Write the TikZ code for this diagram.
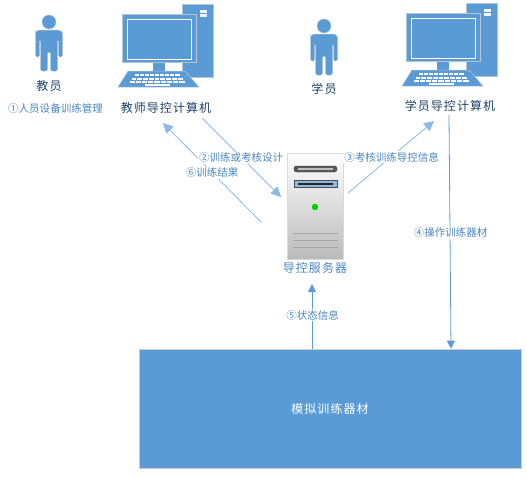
\documentclass[tikz,border=0pt]{standalone}
\usepackage{fontspec}
\setmainfont{Noto Sans CJK SC}
\newfontfamily\kuan[LetterSpace=9]{Noto Sans CJK SC}
\usetikzlibrary{arrows.meta}
\definecolor{lan}{HTML}{5B9BD5}
\definecolor{qianlan}{HTML}{8DB9E3}
\definecolor{biao}{HTML}{4A86C2}
\definecolor{shen}{HTML}{1F3F66}
\definecolor{bian}{HTML}{B4C4D4}
\tikzset{
  renyuan/.pic={
    \fill[lan, draw=bian, line width=.5pt] (0,0) circle (7);
    \fill[lan, draw=bian, line width=.5pt, rounded corners=1.5pt]
      (-13.5,12) -- (-13.5,35) -- (-9.5,35) -- (-9.5,19) -- (-8.5,19) -- (-8.5,49) -- (-1.5,49) -- (-1.5,30)
      -- (1.5,30) -- (1.5,49) -- (8.5,49) -- (8.5,19) -- (9.5,19) -- (9.5,35) -- (13.5,35) -- (13.5,12)
      [rounded corners=4pt] -- (13.5,8) -- (-13.5,8) -- cycle;
  },
  jisuanji/.pic={
    % tower behind the screen
    \fill[lan, draw=bian, line width=.6pt] (60,-10) rectangle (91,63);
    \fill[white!90!lan] (78,-4) rectangle (85,-1);
    \fill[white!90!lan] (78,0) rectangle (85,3);
    % screen
    \fill[lan] (31,48) rectangle (43,58);
    \fill[lan, draw=bian, line width=.6pt] (0,0) rectangle (74,48);
    \draw[white, line width=.6pt] (5,5) rectangle (69,45);
    % keyboard
    \fill[lan, draw=bian, line width=.5pt] (6,57) -- (63,57) -- (77,73) -- (-4,73) -- cycle;
    \foreach \r/\y/\a/\b in {0/60/12/58, 1/63.5/9/61, 2/67/7/63} {
      \foreach \k in {0,...,8} {
        \fill[white] ({\a+(\b-\a)*\k/9+.5},\y) rectangle ({\a+(\b-\a)*(\k+1)/9-.5},\y+2);
      }
    }
    \fill[white] (23,70) rectangle (48,72);
  },
}
\begin{document}
\begin{tikzpicture}[
  x=1pt, y=-1pt,
  wenzi/.style={font=\kuan\fontsize{12}{14}\selectfont, text=shen, inner sep=0pt},
  biaoqian/.style={font=\fontsize{10.5}{12}\selectfont, text=biao, fill=white, inner sep=1pt},
  fl/.style={-{Triangle[length=10pt,width=10pt]}, qianlan, line width=.8pt},
  zhi/.style={-{Triangle[length=8pt,width=8pt]}, lan, line width=.8pt},
]
\useasboundingbox (0,0) rectangle (527,477);
% the people and their computers
\pic at (49,22) {renyuan};
\node[wenzi] (jiaoyuan) at (49,86) {教员};
\pic at (122,14) {jisuanji};
\node[wenzi] (jiaoshi) at (166,108) {教师导控计算机};
\pic at (324,26) {renyuan};
\node[wenzi] (xueyuan) at (324,89) {学员};
\pic at (406,13) {jisuanji};
\node[wenzi] (xuesheng) at (450,106) {学员导控计算机};
% the server
\node[draw=black!15, line width=.8pt, top color=white, bottom color=black!27,
      minimum width=56pt, minimum height=106pt, inner sep=0pt] (fuwu) at (315,206) {};
\fill[black!65, draw=black!80, rounded corners=2.5pt] (294,166) rectangle (337,172);
\fill[black!25] (298,168) rectangle (333,170);
\fill[lan!70!white, draw=black!70] (294,180) rectangle (337,187);
\fill[black!85] (298,182.5) rectangle (333,184.5);
\fill[green!80!black] (315,207) circle (3.2);
\foreach \y in {233,240,247} {
  \draw[black!35, line width=.8pt] (293,\y) -- (338,\y);
}
\node[wenzi, text=biao] (daokong) at (315,268) {导控服务器};
% the training equipment
\node[fill=lan, draw=black!20, line width=.6pt, minimum width=382pt, minimum height=119pt,
      inner sep=0pt, text=white, font=\kuan\fontsize{12}{14}\selectfont] (qicai) at (330,408.5) {模拟训练器材};
% free ends of the connectors
\coordinate (a1) at (202,118);
\coordinate (a2) at (281,197);
\coordinate (b1) at (261,222);
\coordinate (b2) at (163,123);
\coordinate (c1) at (348,193);
\coordinate (c2) at (434,121);
\coordinate (d1) at (449,115);
\coordinate (e1) at (312,284);
% flux
\draw[fl] (a1) -- (a2);
\draw[fl] (b1) -- (b2);
\draw[fl] (c1) -- (c2);
\draw[zhi] (d1) -- (451,0 |- qicai.north);
\draw[zhi] (312,0 |- qicai.north) -- (e1);
% labels
\node[biaoqian] (l1) at (55.5,109) {①人员设备训练管理};
\node[biaoqian] (l2) at (241,158) {②训练或考核设计};
\node[biaoqian] (l6) at (212,173) {⑥训练结果};
\node[biaoqian] (l3) at (391.5,157) {③考核训练导控信息};
\node[biaoqian] (l4) at (450.5,233) {④操作训练器材};
\node[biaoqian] (l5) at (312.5,315) {⑤状态信息};
\end{tikzpicture}
\end{document}
